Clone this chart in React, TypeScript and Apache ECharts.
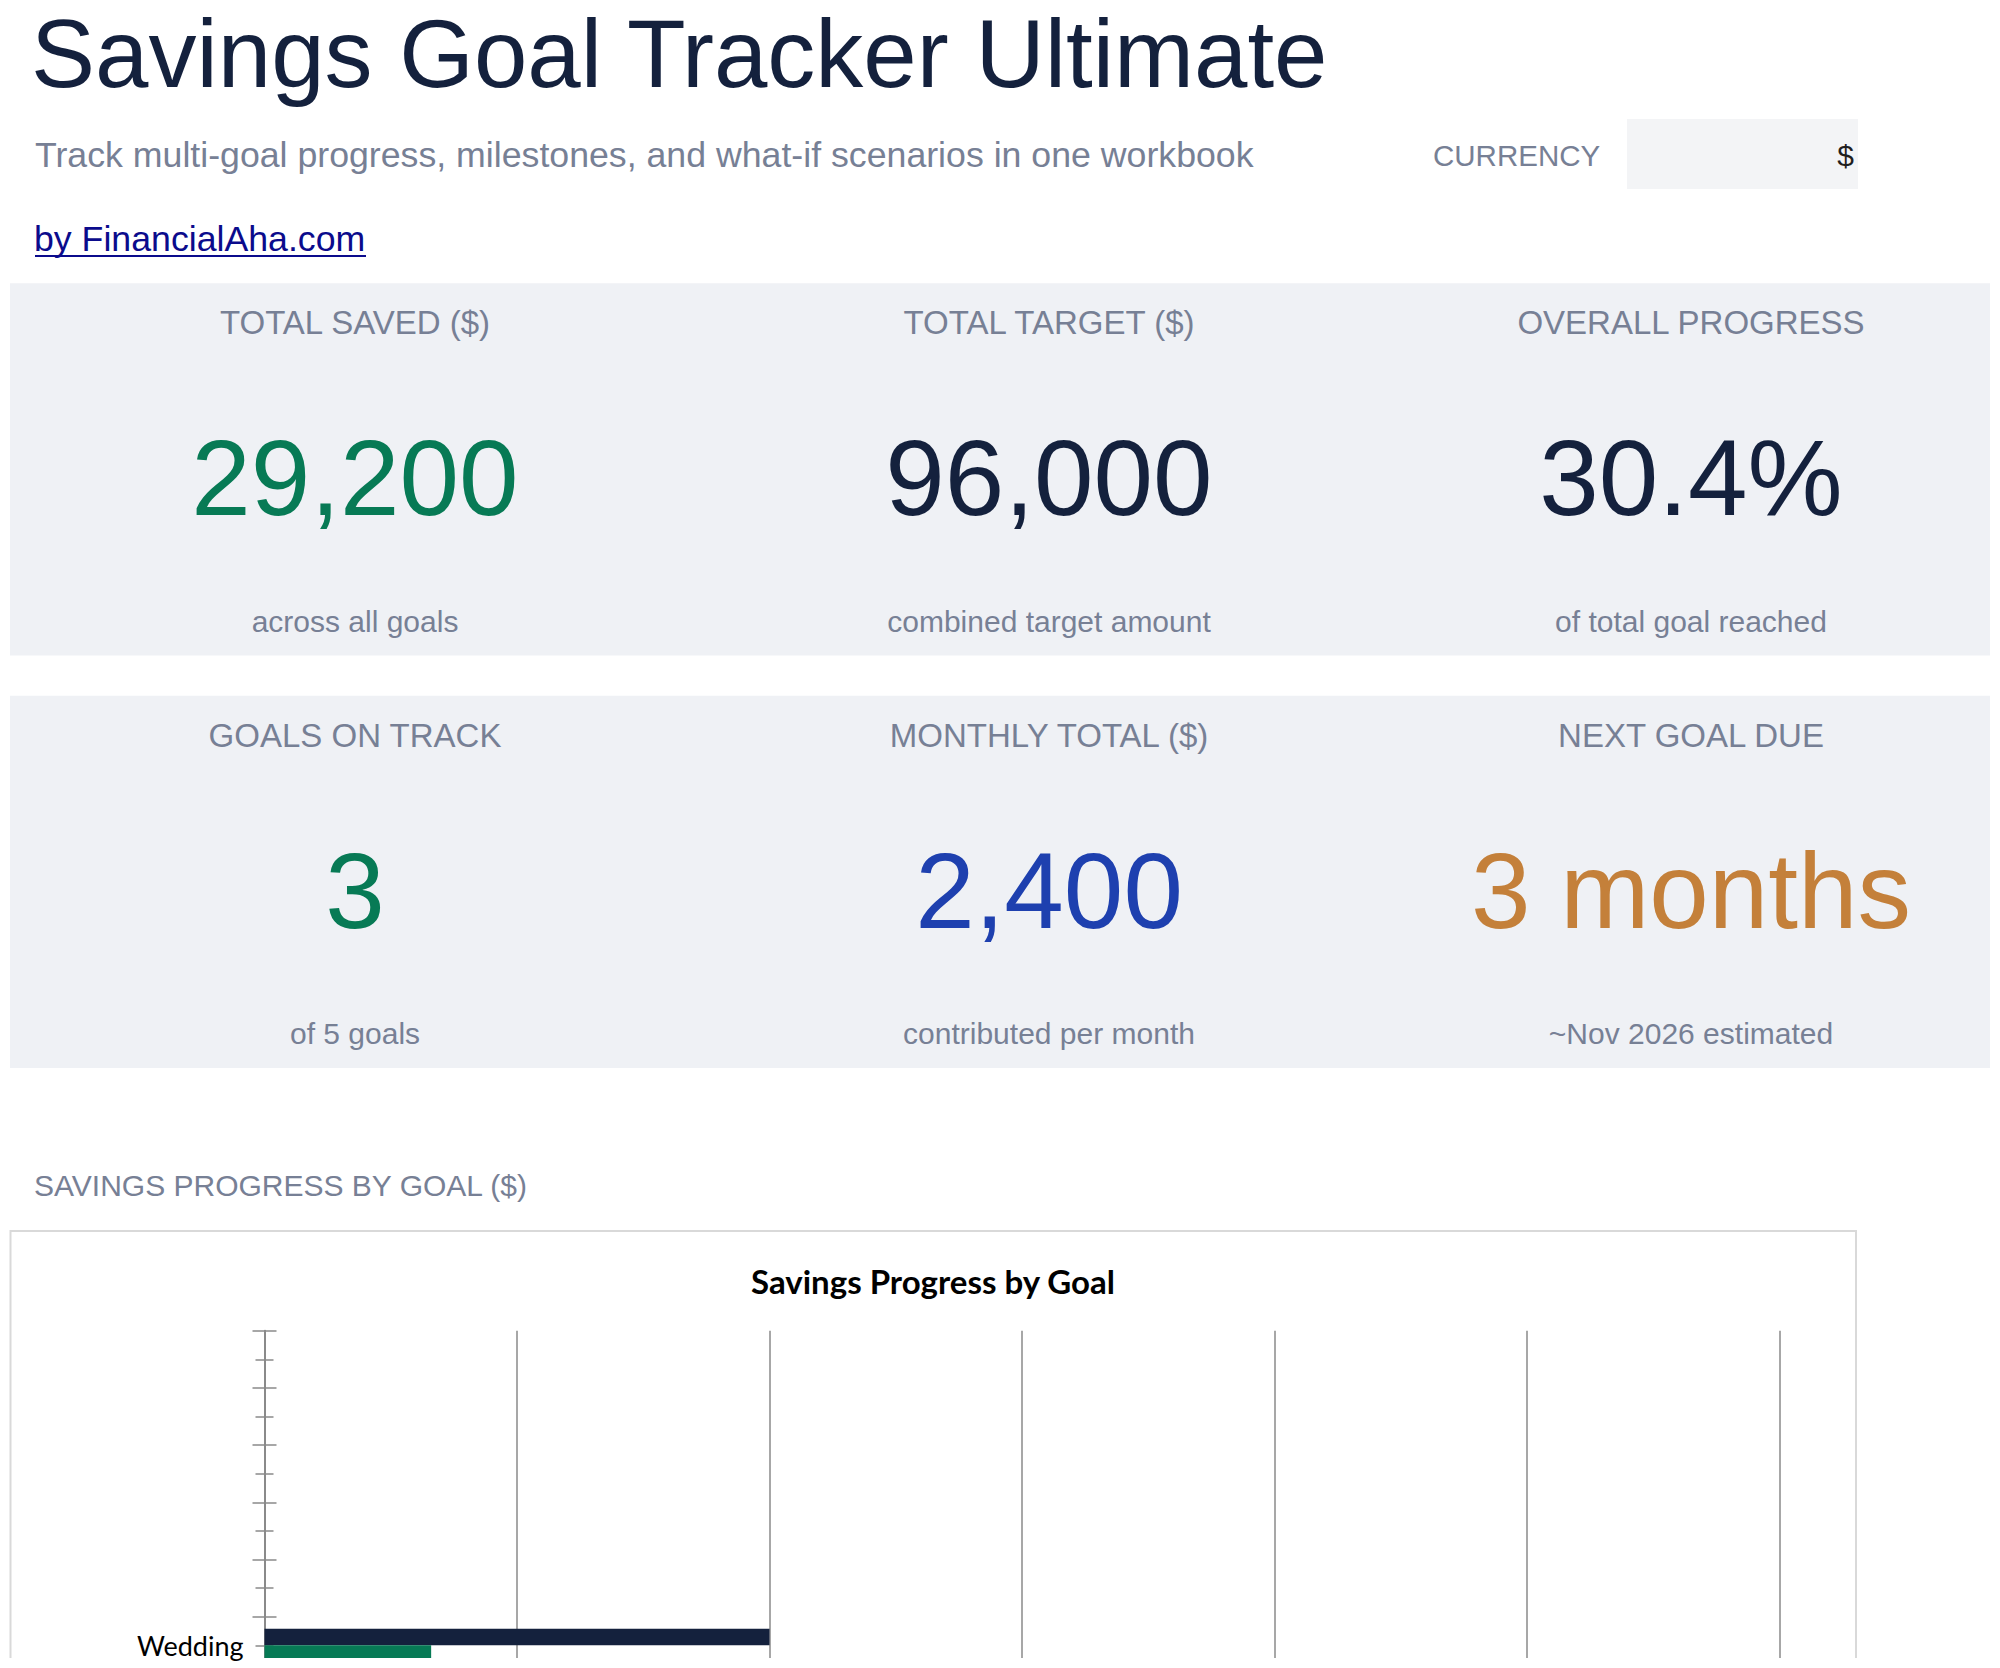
import { useEffect, useRef } from "react"
import * as echarts from "echarts"

// bar chart rows, listed bottom to top as the category axis draws them
const goals = ["Wedding", "", "", "", "", ""]
const targetAmounts = [20000, null, null, null, null, null]
const savedAmounts = [6600, null, null, null, null, null]
const valueMax = 60000
const valueStep = 10000

// KPI cards, row by row
const kpiLabels = [
  ["TOTAL SAVED ($)", "TOTAL TARGET ($)", "OVERALL PROGRESS"],
  ["GOALS ON TRACK", "MONTHLY TOTAL ($)", "NEXT GOAL DUE"],
]
const kpiValues = [
  ["29,200", "96,000", "30.4%"],
  ["3", "2,400", "3 months"],
]
const kpiNotes = [
  ["across all goals", "combined target amount", "of total goal reached"],
  ["of 5 goals", "contributed per month", "~Nov 2026 estimated"],
]
const kpiColors = [
  ["#077a55", "#14213d", "#14213d"],
  ["#077a55", "#1e40af", "#c4803a"],
]

const SANS = "'Liberation Sans', Arial, sans-serif"
const LATO = "Lato, sans-serif"
const GRAY = "#778095"
const NAVY = "#14213d"
const GREEN = "#077a55"
const AXIS = "#8a8a8a"

// zrender's svg text sits on the "central" baseline; shift from the alphabetic one
const mid = (baseline: number, size: number) => baseline - 0.3465 * size

function label(text: string, x: number, baseline: number, size: number, fill: string, align = "left") {
  return {
    type: "text",
    x,
    y: mid(baseline, size),
    silent: true,
    style: {
      text,
      fill,
      fontSize: size,
      fontFamily: SANS,
      align,
      textAlign: align,
      verticalAlign: "middle",
      textVerticalAlign: "middle",
    },
  }
}

// white strip where the sheet's capture stops, leaving the axis label uncovered
const edgeMask = (x: number, width: number) => ({
  type: "rect",
  z: 100,
  shape: { x, y: 1658, width, height: 10 },
  style: { fill: "#fff" },
  silent: true,
})

function buildGraphic() {
  const els: any[] = [
    label("Savings Goal Tracker Ultimate", 31, 87, 96, NAVY),
    label("Track multi-goal progress, milestones, and what-if scenarios in one workbook", 35, 167, 35.7, GRAY),
    label("CURRENCY", 1433, 166, 29.5, GRAY),
    { type: "rect", shape: { x: 1627, y: 119, width: 231, height: 70 }, style: { fill: "#f3f4f6" }, silent: true },
    label("$", 1854, 166, 30, "#1f1f1f", "right"),
    label("by FinancialAha.com", 34, 251, 35.7, "#0b0b8c"),
    { type: "line", shape: { x1: 35, y1: 256, x2: 366, y2: 256 }, style: { stroke: "#0b0b8c", lineWidth: 2 }, silent: true },
    label("SAVINGS PROGRESS BY GOAL ($)", 34, 1196, 30, GRAY),
    {
      type: "rect",
      shape: { x: 10.5, y: 1231, width: 1845.5, height: 500 },
      style: { fill: "none", stroke: "#d9d9d9", lineWidth: 2 },
      silent: true,
    },
    {
      type: "text",
      x: 933,
      y: 1281,
      silent: true,
      style: {
        text: "Savings Progress by Goal",
        fill: "#000",
        fontSize: 33,
        fontWeight: "bold",
        fontFamily: LATO,
        align: "center",
        textAlign: "center",
        verticalAlign: "middle",
        textVerticalAlign: "middle",
      },
    },
    edgeMask(0, 60),
    edgeMask(250, 1750),
  ]

  const panelTops = [283.3, 695.7]
  const colCenters = [355, 1049, 1691]
  panelTops.forEach((top, r) => {
    els.push({
      type: "rect",
      shape: { x: 10, y: top, width: 1980, height: 372.2 },
      style: { fill: "#eff1f5" },
      silent: true,
    })
    colCenters.forEach((cx, c) => {
      els.push(label(kpiLabels[r][c], cx, top + 51, 33, GRAY, "center"))
      els.push(label(kpiValues[r][c], cx, top + 232, 107, kpiColors[r][c], "center"))
      els.push(label(kpiNotes[r][c], cx, top + 348.5, 30, GRAY, "center"))
    })
  })
  return els
}

const catAxis = (extra: any) => ({
  type: "category",
  data: goals,
  position: "left",
  gridIndex: 0,
  axisLine: { show: false },
  axisLabel: { show: false },
  splitLine: { show: false },
  ...extra,
})

export default function App() {
  const chartRef = useRef<HTMLDivElement>(null)

  useEffect(() => {
    if (!chartRef.current) return
    const chart = echarts.init(chartRef.current, null, { renderer: "svg" })

    const tick = (length: number, inside: boolean, alignWithLabel: boolean) => ({
      show: true,
      length,
      inside,
      alignWithLabel,
      interval: 0,
      lineStyle: { color: AXIS, width: 1.5 },
    })

    chart.setOption({
      animation: false,
      graphic: buildGraphic(),
      grid: {
        left: 264.5,
        top: 1330.7,
        width: 1515,
        height: 343.2,
        containLabel: false,
        outerBoundsMode: "none",
      },
      xAxis: {
        type: "value",
        min: 0,
        max: valueMax,
        interval: valueStep,
        axisLine: { show: false },
        axisTick: { show: false },
        // value labels sit below the page edge in the reference
        axisLabel: { show: false },
        splitLine: { show: true, lineStyle: { color: "#8a8a8a", width: 1.5 } },
      },
      yAxis: [
        catAxis({
          axisLine: { show: true, lineStyle: { color: AXIS, width: 2 } },
          axisTick: tick(12, false, false),
          axisLabel: {
            show: true,
            interval: 0,
            margin: 21,
            color: "#000",
            fontFamily: LATO,
            fontSize: 27,
            padding: [0, 0, 8, 0],
          },
        }),
        catAxis({ axisTick: tick(12, true, false) }),
        catAxis({ axisTick: tick(9, false, true) }),
        catAxis({ axisTick: tick(9, true, true) }),
      ],
      series: [
        {
          name: "Target",
          type: "bar",
          yAxisIndex: 0,
          data: targetAmounts,
          barWidth: 16.6,
          barGap: "0%",
          itemStyle: { color: NAVY },
        },
        {
          name: "Saved",
          type: "bar",
          yAxisIndex: 0,
          data: savedAmounts,
          barWidth: 16.6,
          barGap: "0%",
          itemStyle: { color: GREEN },
        },
      ],
    })

    return () => {
      chart.dispose()
    }
  }, [])

  return (
    <div
      ref={chartRef}
      style={{
        position: "fixed",
        left: 0,
        top: 0,
        width: 2000,
        height: 1668,
        overflow: "hidden",
        background: "#fff",
      }}
    />
  )
}
